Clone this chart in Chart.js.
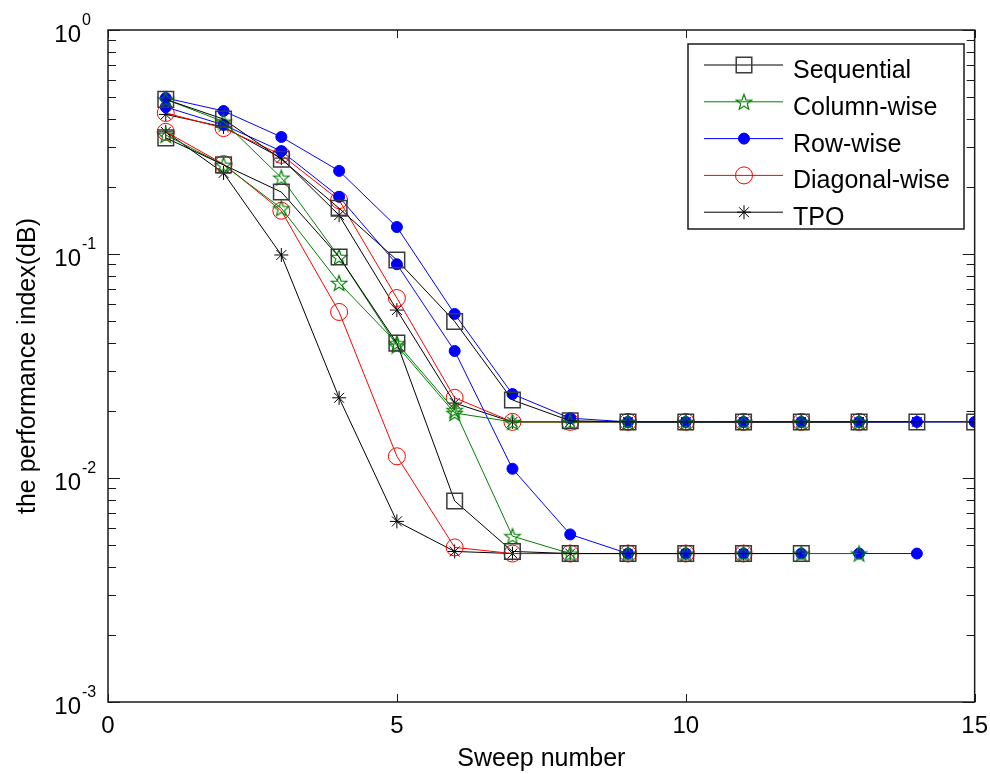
<!DOCTYPE html>
<html>
<head>
<meta charset="utf-8">
<script src="https://cdn.jsdelivr.net/npm/chart.js@4.4.1/dist/chart.umd.min.js"></script>
<style>
  html, body { margin: 0; padding: 0; background: #fff; }
</style>
</head>
<body>
<canvas id="perfChart" width="990" height="774"></canvas>
<script>
// x positions of the points (sweep number)
const sweeps = [1, 2, 3, 4, 5, 6, 7, 8, 9, 10, 11, 12, 13, 14, 15];
const xTicks = [0, 5, 10, 15];
const yDecades = [1, 0.1, 0.01, 0.001];
const yExponents = ['0', '-1', '-2', '-3'];
const methodNames = ['Sequential', 'Column-wise', 'Row-wise', 'Diagonal-wise', 'TPO'];

// each method was run twice: one run settles near 1.8e-2, the other near 4.6e-3
const sequentialHigh = [0.49, 0.40, 0.265, 0.16, 0.094, 0.050, 0.0223, 0.018, 0.0178, 0.0178, 0.0178, 0.0178, 0.0178, 0.0178, 0.0178];
const sequentialLow  = [0.33, 0.25, 0.189, 0.097, 0.040, 0.0079, 0.0047, 0.0046, 0.0046, 0.0046, 0.0046, 0.0046];
const columnHigh     = [0.49, 0.39, 0.219, 0.097, 0.039, 0.0195, 0.0178, 0.0178, 0.0178, 0.0178, 0.0178, 0.0178, 0.0178];
const columnLow      = [0.34, 0.25, 0.160, 0.0743, 0.040, 0.0201, 0.0055, 0.0046, 0.0046, 0.0046, 0.0046, 0.0046, 0.0046];
const rowHigh        = [0.497, 0.435, 0.333, 0.235, 0.132, 0.054, 0.0237, 0.0185, 0.0178, 0.0178, 0.0178, 0.0178, 0.0178, 0.0178, 0.0178];
const rowLow         = [0.453, 0.377, 0.288, 0.180, 0.090, 0.0369, 0.0110, 0.0056, 0.0046, 0.0046, 0.0046, 0.0046, 0.0046, 0.0046];
const diagonalHigh   = [0.426, 0.365, 0.277, 0.174, 0.0636, 0.0228, 0.0178, 0.0178, 0.0178, 0.0178, 0.0178, 0.0178, 0.0178];
const diagonalLow    = [0.351, 0.252, 0.156, 0.0551, 0.0125, 0.0049, 0.0046, 0.0046, 0.0046, 0.0046, 0.0046];
const tpoHigh        = [0.42, 0.369, 0.268, 0.149, 0.0562, 0.0216, 0.0178, 0.0178, 0.0178, 0.0178, 0.0178, 0.0178, 0.0178, 0.0178];
const tpoLow         = [0.351, 0.230, 0.099, 0.0228, 0.0064, 0.0047, 0.0046, 0.0046, 0.0046, 0.0046, 0.0046];

const FONT = '"Liberation Sans", Arial, Helvetica, sans-serif';

// matlab-like pentagram marker
function makePentagram(color) {
    const c = document.createElement('canvas');
    c.width = 20; c.height = 20;
    const g = c.getContext('2d');
    g.strokeStyle = color;
    g.lineWidth = 1.2;
    g.beginPath();
    for (let i = 0; i < 10; i++) {
        const r = i % 2 ? 3.4 : 8.2;
        const a = -Math.PI / 2 + i * Math.PI / 5;
        const px = 10 + r * Math.cos(a), py = 10.8 + r * Math.sin(a);
        if (i === 0) g.moveTo(px, py); else g.lineTo(px, py);
    }
    g.closePath();
    g.stroke();
    return c;
}

const pentagram = makePentagram('#008000');

// marker / line style per method, same order as methodNames
const styles = [
    { line: '#000000', pointStyle: 'rect', radius: 11, border: '#3a3a3a', fill: 'rgba(0,0,0,0)', bw: 1.5 },
    { line: '#008000', pointStyle: pentagram, radius: 8, border: '#008000', fill: 'rgba(0,0,0,0)', bw: 1 },
    { line: '#0000ff', pointStyle: 'circle', radius: 5.5, border: '#0000ff', fill: '#0000ff', bw: 1 },
    { line: '#ff0000', pointStyle: 'circle', radius: 8.5, border: '#ff0000', fill: 'rgba(0,0,0,0)', bw: 1 },
    { line: '#000000', pointStyle: 'star', radius: 7, border: '#000000', fill: 'rgba(0,0,0,0)', bw: 1 }
];

const runs = [
    [sequentialHigh, sequentialLow],
    [columnHigh, columnLow],
    [rowHigh, rowLow],
    [diagonalHigh, diagonalLow],
    [tpoHigh, tpoLow]
];

function toPoints(values) {
    return values.map((v, i) => ({ x: sweeps[i], y: v }));
}

const datasets = [];
runs.forEach((pair, m) => {
    const s = styles[m];
    pair.forEach(values => {
        datasets.push({
            label: methodNames[m],
            data: toPoints(values),
            borderColor: s.line,
            borderWidth: 1,
            tension: 0,
            pointStyle: s.pointStyle,
            pointRadius: s.radius,
            pointBorderColor: s.border,
            pointBackgroundColor: s.fill,
            pointBorderWidth: s.bw
        });
    });
});

// box, inward ticks, 10^n labels and the framed legend
const matlabAxes = {
    id: 'matlabAxes',
    afterDraw(chart) {
        const ctx = chart.ctx;
        const area = chart.chartArea;
        const xs = chart.scales.x, ys = chart.scales.y;
        ctx.save();
        ctx.strokeStyle = '#1a1a1a';
        ctx.lineWidth = 1.5;
        ctx.strokeRect(area.left, area.top, area.right - area.left, area.bottom - area.top);

        ctx.lineWidth = 1;
        ctx.beginPath();
        xTicks.forEach(t => {
            const px = Math.round(xs.getPixelForValue(t)) + 0.5;
            ctx.moveTo(px, area.bottom); ctx.lineTo(px, area.bottom - 8);
            ctx.moveTo(px, area.top); ctx.lineTo(px, area.top + 8);
        });
        yDecades.forEach(d => {
            const py = Math.round(ys.getPixelForValue(d)) + 0.5;
            ctx.moveTo(area.left, py); ctx.lineTo(area.left + 12, py);
            ctx.moveTo(area.right, py); ctx.lineTo(area.right - 12, py);
            if (d < 1) {
                for (let k = 2; k <= 9; k++) {
                    const my = Math.round(ys.getPixelForValue(k * d)) + 0.5;
                    ctx.moveTo(area.left, my); ctx.lineTo(area.left + 8, my);
                    ctx.moveTo(area.right, my); ctx.lineTo(area.right - 8, my);
                }
            }
        });
        ctx.stroke();

        // y tick labels as 10 with a raised exponent
        ctx.fillStyle = '#000';
        ctx.textBaseline = 'middle';
        yDecades.forEach((d, i) => {
            const py = ys.getPixelForValue(d);
            ctx.font = '24px ' + FONT;
            ctx.textAlign = 'right';
            ctx.fillText('10', 81, py + 5);
            ctx.font = '16px ' + FONT;
            ctx.textAlign = 'left';
            ctx.fillText(yExponents[i], 82, py - 9);
        });

        // legend box
        const lx = 688, ly = 44, lw = 276, lh = 185;
        ctx.fillStyle = '#fff';
        ctx.fillRect(lx, ly, lw, lh);
        ctx.strokeStyle = '#1a1a1a';
        ctx.lineWidth = 1.5;
        ctx.strokeRect(lx, ly, lw, lh);
        methodNames.forEach((name, i) => {
            const s = styles[i];
            const ry = 65 + i * 36.8;
            ctx.strokeStyle = s.line;
            ctx.lineWidth = 1;
            ctx.beginPath();
            ctx.moveTo(704, ry); ctx.lineTo(783, ry);
            ctx.stroke();
            ctx.strokeStyle = s.border;
            ctx.fillStyle = s.fill;
            ctx.lineWidth = s.bw;
            Chart.helpers.drawPoint(ctx, { pointStyle: s.pointStyle, radius: s.radius, rotation: 0, borderWidth: s.bw }, 744, ry);
            ctx.fillStyle = '#000';
            ctx.font = '25px ' + FONT;
            ctx.textAlign = 'left';
            ctx.textBaseline = 'alphabetic';
            ctx.fillText(name, 793, ry + 13);
        });
        ctx.restore();
    }
};

new Chart(document.getElementById('perfChart').getContext('2d'), {
    type: 'line',
    data: { datasets: datasets },
    options: {
        responsive: false,
        animation: false,
        events: [],
        layout: { padding: { top: 30, right: 11, left: 0, bottom: 0 } },
        plugins: { legend: { display: false }, tooltip: { enabled: false } },
        scales: {
            x: {
                type: 'linear',
                min: 0,
                max: 15,
                afterFit: scale => { scale.height = 72; },
                grid: { display: false },
                border: { display: false },
                ticks: { stepSize: 5, color: '#000', padding: 2, maxRotation: 0, font: { size: 24, family: FONT } },
                title: { display: true, text: 'Sweep number', color: '#000', padding: { top: 0, bottom: 0 }, font: { size: 25, family: FONT } }
            },
            y: {
                type: 'logarithmic',
                min: 0.001,
                max: 1,
                afterFit: scale => { scale.width = 108; },
                grid: { display: false },
                border: { display: false },
                ticks: { display: false },
                title: { display: true, text: 'the performance index(dB)', color: '#000', padding: { top: 13, bottom: 0 }, font: { size: 25, family: FONT } }
            }
        }
    },
    plugins: [matlabAxes]
});
</script>
</body>
</html>
